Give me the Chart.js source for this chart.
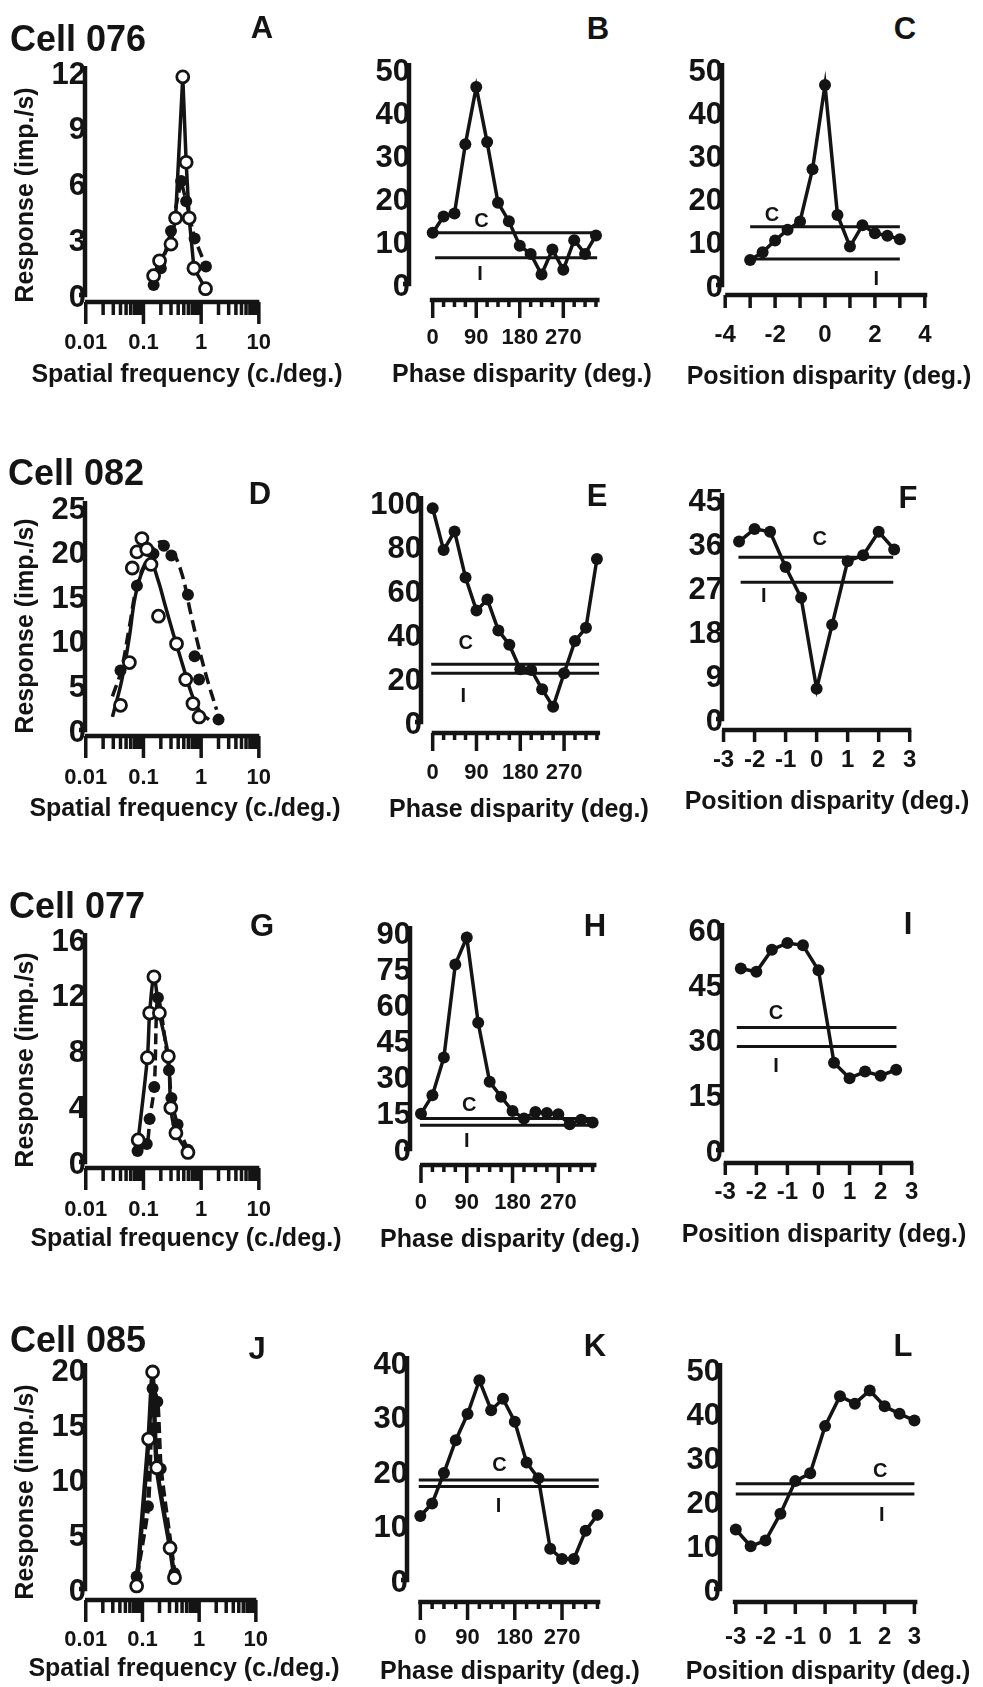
<!DOCTYPE html>
<html>
<head>
<meta charset="utf-8">
<script src="https://cdn.jsdelivr.net/npm/chart.js@4.4.1/dist/chart.umd.min.js"></script>
<style>
  body { margin: 0; background: #fff; width: 983px; height: 1687px; position: relative; overflow: hidden;
         font-family: "Liberation Sans", Arial, Helvetica, sans-serif; font-weight: bold; color: #141414; }
  canvas { position: absolute; }
  .txt { position: absolute; white-space: nowrap; line-height: 1; z-index: 2; }
</style>
</head>
<body>
<script>
// ---- shared x values and tick labels ----
const phaseDeg = [0, 22.5, 45, 67.5, 90, 112.5, 135, 157.5, 180, 202.5, 225, 247.5, 270, 292.5, 315, 337.5];
const pos13 = [-3, -2.5, -2, -1.5, -1, -0.5, 0, 0.5, 1, 1.5, 2, 2.5, 3];
const pos11 = [-2.5, -2, -1.5, -1, -0.5, 0, 0.5, 1, 1.5, 2, 2.5];

const logTicks = [0.01, 0.1, 1, 10];
const logMinor = [0.02, 0.03, 0.04, 0.05, 0.06, 0.07, 0.08, 0.09, 0.2, 0.3, 0.4, 0.5, 0.6, 0.7, 0.8, 0.9, 2, 3, 4, 5, 6, 7, 8, 9];
const phaseTicks = [0, 90, 180, 270];
const phaseMinor = [22.5, 45, 67.5, 112.5, 135, 157.5, 202.5, 225, 247.5, 292.5, 315, 337.5];
const posTicksWide = [-4, -3, -2, -1, 0, 1, 2, 3, 4];
const posLabelsWide = [-4, -2, 0, 2, 4];
const posTicks = [-3, -2, -1, 0, 1, 2, 3];

const yTicksA = [0, 3, 6, 9, 12];
const yTicksB = [0, 10, 20, 30, 40, 50];
const yTicksC = [0, 10, 20, 30, 40, 50];
const yTicksD = [0, 5, 10, 15, 20, 25];
const yTicksE = [0, 20, 40, 60, 80, 100];
const yTicksF = [0, 9, 18, 27, 36, 45];
const yTicksG = [0, 4, 8, 12, 16];
const yTicksH = [0, 15, 30, 45, 60, 75, 90];
const yTicksI = [0, 15, 30, 45, 60];
const yTicksJ = [0, 5, 10, 15, 20];
const yTicksK = [0, 10, 20, 30, 40];
const yTicksL = [0, 10, 20, 30, 40, 50];

// ---- Cell 076 ----
const sfOpenX_A = [0.15, 0.19, 0.30, 0.36, 0.48, 0.55, 0.62, 0.75, 1.19];
const sfOpenY_A = [1.2, 2.0, 2.9, 4.3, 11.9, 7.3, 4.3, 1.6, 0.5];
const sfFillX_A = [0.15, 0.20, 0.30, 0.45, 0.55, 0.77, 1.21];
const sfFillY_A = [0.7, 1.6, 3.6, 6.3, 5.2, 3.2, 1.7];
const phaseY_B = [12.6, 16.4, 17.1, 33.2, 46.5, 33.7, 19.6, 15.3, 9.6, 7.7, 2.9, 8.7, 4.0, 10.9, 7.7, 12.0];
const levelsB = [12.6, 6.8]; // C, I
const posY_C = [6.5, 8.3, 11.0, 13.5, 15.4, 27.5, 47.0, 16.9, 9.6, 14.5, 12.7, 12.1, 11.3];
const levelsC = [14.2, 6.7];

// ---- Cell 082 ----
const sfOpenX_D = [0.040, 0.057, 0.064, 0.077, 0.094, 0.114, 0.135, 0.182, 0.374, 0.54, 0.72, 0.92];
const sfOpenY_D = [3.1, 7.9, 18.5, 20.3, 21.8, 20.6, 18.9, 13.1, 10.0, 6.0, 3.3, 1.8];
const sfFillX_D = [0.040, 0.077, 0.149, 0.226, 0.305, 0.59, 0.77, 0.92, 2.0];
const sfFillY_D = [7.0, 16.5, 20.1, 21.0, 19.9, 15.5, 8.6, 6.0, 1.5];
const fitOpenX_D = [0.029, 0.042, 0.057, 0.072, 0.098, 0.132, 0.178, 0.24, 0.34, 0.49, 0.71, 1.0, 1.37];
const fitOpenY_D = [1.8, 5.9, 10.8, 15.3, 18.3, 19.2, 17.2, 14.2, 10.8, 7.4, 4.1, 2.2, 1.5];
const fitFillX_D = [0.029, 0.041, 0.057, 0.077, 0.115, 0.19, 0.305, 0.46, 0.66, 0.90, 1.29, 1.85];
const fitFillY_D = [4.1, 7.0, 11.9, 16.5, 19.4, 21.4, 20.5, 17.9, 13.4, 9.7, 5.9, 2.6];
const phaseY_E = [98.5, 79.5, 88.0, 67.0, 52.0, 57.0, 43.0, 36.5, 25.3, 25.0, 16.2, 8.3, 23.5, 38.2, 44.2, 75.5];
const levelsE = [27.6, 23.5];
const posY_F = [36.9, 39.5, 38.9, 31.7, 25.4, 6.8, 19.9, 32.9, 34.1, 38.9, 35.3];
const levelsF = [33.7, 28.6];

// ---- Cell 077 ----
const sfOpenX_G = [0.081, 0.117, 0.128, 0.152, 0.189, 0.27, 0.298, 0.365, 0.59];
const sfOpenY_G = [1.8, 7.7, 10.9, 13.5, 10.9, 7.8, 4.1, 2.3, 0.9];
const sfFillX_G = [0.079, 0.114, 0.128, 0.154, 0.178, 0.277, 0.305, 0.39, 0.59];
const sfFillY_G = [1.0, 1.5, 3.3, 5.6, 12.0, 6.8, 4.8, 2.9, 1.1];
const phaseY_H = [15.9, 23.5, 39.2, 77.8, 89.0, 53.6, 29.1, 22.9, 17.0, 13.9, 16.6, 16.2, 15.7, 11.5, 13.4, 12.2];
const levelsH = [13.9, 11.1];
const posY_I = [50.1, 49.2, 55.2, 57.0, 56.4, 49.6, 24.5, 20.3, 22.1, 21.0, 22.6];
const levelsI = [34.1, 28.9];

// ---- Cell 085 ----
const sfOpenX_J = [0.079, 0.128, 0.151, 0.179, 0.307, 0.367];
const sfOpenY_J = [0.55, 13.9, 20.0, 11.3, 4.0, 1.3];
const sfFillX_J = [0.079, 0.125, 0.151, 0.183, 0.21, 0.367];
const sfFillY_J = [1.4, 7.8, 18.5, 17.3, 11.2, 1.7];
const phaseY_K = [12.3, 14.6, 20.2, 26.2, 31.0, 37.2, 31.7, 33.8, 29.6, 22.1, 19.2, 6.3, 4.4, 4.4, 9.6, 12.5];
const levelsK = [18.9, 17.7];
const posY_L = [14.2, 10.4, 11.7, 17.8, 25.2, 27.0, 37.7, 44.5, 42.8, 45.8, 42.2, 40.5, 39.0];
const levelsL = [24.6, 22.3];

const INK = '#141414';
const FONT = '"Liberation Sans", Arial, Helvetica, sans-serif';

function pts(xs, ys) {
    return xs.map((x, i) => ({ x: x, y: ys[i] }));
}

// open circles / filled dots, optionally joined
function openSeries(xs, ys, line, width) {
    return {
        data: pts(xs, ys), showLine: !!line, borderColor: INK, borderWidth: width || 3.5,
        pointRadius: 6, pointBackgroundColor: '#fff', pointBorderColor: INK, pointBorderWidth: 2.8,
        clip: false, order: 1
    };
}
function filledSeries(xs, ys, line, width) {
    return {
        data: pts(xs, ys), showLine: !!line, borderColor: INK, borderWidth: width || 3.5,
        borderDash: line === 'dash' ? [11, 5] : [],
        pointRadius: 6, pointBackgroundColor: INK, pointBorderWidth: 0,
        clip: false, order: 2
    };
}
function fitCurve(xs, ys, dashed) {
    return {
        data: pts(xs, ys), showLine: true, borderColor: INK, borderWidth: 3.5, tension: 0.4,
        borderDash: dashed ? [12, 6] : [], pointRadius: 0, clip: false, order: 3
    };
}
function refLine(level, span) {
    return {
        data: [{ x: span[0], y: level }, { x: span[1], y: level }], showLine: true,
        borderColor: INK, borderWidth: 3, pointRadius: 0, clip: false, order: 5
    };
}
function disparitySets(xs, ys, levels, cSpan, iSpan) {
    return [filledSeries(xs, ys, 'solid'), refLine(levels[0], cSpan), refLine(levels[1], iSpan)];
}

// axis settings per column
const sfAxis = { kind: 'sf', xMin: 0.0097, xMax: 10.3, xLabels: logTicks, major: logTicks, minor: logMinor,
                 majorLen: 22, minorLen: 13, axisFrom: 0.0097, axisTo: 10.2, xFont: 22 };
const phaseAxis = { kind: 'phase', xMax: 350, xLabels: phaseTicks, major: phaseTicks, minor: phaseMinor,
                    majorLen: 18, minorLen: 7, axisTo: 345, xFont: 22 };
const posAxis = { kind: 'pos', xMax: 3.3, xLabels: posTicks, major: posTicks, minor: [],
                  majorLen: 12, minorLen: 0, axisFrom: -3.05, axisTo: 3.05, xFont: 24 };

const panels = [
    { ...sfAxis, id: 'A', l: 85, r: 277, t: 75, b: 298, axisY: 302, labelY: 343, yTicks: yTicksA,
      datasets: [openSeries(sfOpenX_A, sfOpenY_A, 'solid'), filledSeries(sfFillX_A, sfFillY_A, 'dash')] },
    { ...phaseAxis, id: 'B', l: 409, r: 602, t: 72, b: 287, axisY: 300, labelY: 338, xMin: -49, axisFrom: -6,
      yTicks: yTicksB, datasets: disparitySets(phaseDeg, phaseY_B, levelsB, [-5, 340], [5, 340]),
      cAt: [101, 15.3], iAt: [98, 2.9] },
    { kind: 'pos', id: 'C', l: 722, r: 939, t: 72, b: 288, axisY: 295, labelY: 335, xMin: -4.128, xMax: 4.3,
      xLabels: posLabelsWide, major: posTicksWide, minor: [], majorLen: 13, minorLen: 0,
      axisFrom: -4, axisTo: 4.1, xFont: 24, yTicks: yTicksC,
      datasets: disparitySets(pos13, posY_C, levelsC, [-3, 3], [-2.8, 3]), cAt: [-2.13, 16.7], iAt: [2.06, 1.9] },

    { ...sfAxis, id: 'D', l: 85, r: 277, t: 510, b: 733, axisY: 736, labelY: 778, yTicks: yTicksD,
      datasets: [openSeries(sfOpenX_D, sfOpenY_D, false), filledSeries(sfFillX_D, sfFillY_D, false),
                 fitCurve(fitOpenX_D, fitOpenY_D, false), fitCurve(fitFillX_D, fitFillY_D, true)] },
    { ...phaseAxis, id: 'E', l: 421, r: 603, t: 505, b: 725, axisY: 733, labelY: 773, xMin: -24, axisFrom: -2, axisTo: 344,
      yTicks: yTicksE, datasets: disparitySets(phaseDeg, phaseY_E, levelsE, [-3, 342], [-3, 342]),
      cAt: [68, 37.1], iAt: [62.7, 12.9] },
    { ...posAxis, id: 'F', l: 722, r: 919, t: 502, b: 722, axisY: 730, labelY: 760, xMin: -3.05,
      yTicks: yTicksF, datasets: disparitySets(pos11, posY_F, levelsF, [-2.52, 2.47], [-2.45, 2.47]),
      cAt: [0.1, 37.3], iAt: [-1.7, 25.6] },

    { ...sfAxis, id: 'G', l: 85, r: 277, t: 942, b: 1165, axisY: 1168, labelY: 1210, yTicks: yTicksG,
      datasets: [Object.assign(openSeries(sfOpenX_G, sfOpenY_G, 'solid'), { tension: 0.3 }),
                 Object.assign(filledSeries(sfFillX_G, sfFillY_G, 'dash'), { tension: 0.3 })] },
    { ...phaseAxis, id: 'H', l: 410, r: 599, t: 935, b: 1152, axisY: 1165, labelY: 1203, xMin: -21.6, axisFrom: -2,
      yTicks: yTicksH, datasets: disparitySets(phaseDeg, phaseY_H, levelsH, [-2, 340], [-2, 340]),
      cAt: [94.7, 19.4], iAt: [90, 4.2] },
    { ...posAxis, id: 'I', l: 722, r: 921, t: 932, b: 1153, axisY: 1163, labelY: 1192, xMin: -3.106,
      yTicks: yTicksI, datasets: disparitySets(pos11, posY_I, levelsI, [-2.63, 2.51], [-2.63, 2.51]),
      cAt: [-1.37, 37.9], iAt: [-1.37, 23.5] },

    { ...sfAxis, id: 'J', l: 85, r: 277, t: 1372, b: 1592, axisY: 1600, labelY: 1640, yTicks: yTicksJ,
      datasets: [Object.assign(openSeries(sfOpenX_J, sfOpenY_J, 'solid', 4.5), { tension: 0.2 }),
                 Object.assign(filledSeries(sfFillX_J, sfFillY_J, 'dash', 4.5), { tension: 0.2 })] },
    { ...phaseAxis, id: 'K', l: 407, r: 604, t: 1365, b: 1583, axisY: 1602, labelY: 1638, xMin: -25.4, axisFrom: -4, axisTo: 343,
      yTicks: yTicksK, datasets: disparitySets(phaseDeg, phaseY_K, levelsK, [-3, 340], [-3, 340]),
      cAt: [151, 21.6], iAt: [149, 14.1] },
    { ...posAxis, id: 'L', l: 720, r: 927, t: 1372, b: 1592, axisY: 1602, labelY: 1637, xMin: -3.53, xMax: 3.35,
      axisFrom: -3.1, axisTo: 3.1, yTicks: yTicksL,
      datasets: disparitySets(pos13, posY_L, levelsL, [-3, 3], [-3, 3]),
      cAt: [1.85, 27.3], iAt: [1.9, 17.4] }
];

// Prism-style axes: y line with a foot, detached x line with major/minor ticks, C / I tags
function axisPlugin(p) {
    return {
        id: 'prismAxes',
        beforeDatasetsDraw(chart) {
            const ctx = chart.ctx, a = chart.chartArea, xs = chart.scales.x, ys = chart.scales.y;
            ctx.save();
            ctx.strokeStyle = INK;
            ctx.lineWidth = 4.5;
            const y0 = ys.getPixelForValue(0) - 3;
            ctx.beginPath();
            ctx.moveTo(a.left - 6, y0);
            ctx.lineTo(a.left, y0);
            ctx.lineTo(a.left, a.top - 9);
            ctx.stroke();

            const ay = a.bottom + (p.axisY - p.b);
            ctx.beginPath();
            ctx.moveTo(xs.getPixelForValue(p.axisFrom), ay);
            ctx.lineTo(xs.getPixelForValue(p.axisTo), ay);
            ctx.stroke();

            ctx.lineWidth = 3.5;
            ctx.beginPath();
            p.major.forEach(v => {
                const px = xs.getPixelForValue(v);
                ctx.moveTo(px, ay);
                ctx.lineTo(px, ay + p.majorLen);
            });
            p.minor.forEach(v => {
                const px = xs.getPixelForValue(v);
                ctx.moveTo(px, ay);
                ctx.lineTo(px, ay + p.minorLen);
            });
            ctx.stroke();
            ctx.restore();
        },
        afterDatasetsDraw(chart) {
            if (!p.cAt) return;
            const ctx = chart.ctx, xs = chart.scales.x, ys = chart.scales.y;
            ctx.save();
            ctx.fillStyle = INK;
            ctx.font = 'bold 20px ' + FONT;
            ctx.textAlign = 'center';
            ctx.textBaseline = 'middle';
            ctx.fillText('C', xs.getPixelForValue(p.cAt[0]), ys.getPixelForValue(p.cAt[1]));
            ctx.fillText('I', xs.getPixelForValue(p.iAt[0]), ys.getPixelForValue(p.iAt[1]));
            ctx.restore();
        }
    };
}

function makePanel(p) {
    const yW = 60, padTop = 22, padRight = 26, xH = 80;
    const w = p.r - p.l + yW + padRight;
    const h = p.b - p.t + padTop + xH;
    const cv = document.createElement('canvas');
    cv.width = w;
    cv.height = h;
    cv.style.left = (p.l - yW) + 'px';
    cv.style.top = (p.t - padTop) + 'px';
    cv.style.width = w + 'px';
    cv.style.height = h + 'px';
    document.body.appendChild(cv);

    return new Chart(cv, {
        type: 'scatter',
        data: { datasets: p.datasets },
        options: {
            responsive: false,
            animation: false,
            devicePixelRatio: 1,
            events: [],
            layout: { padding: { top: padTop, right: padRight, left: 0, bottom: 0 } },
            plugins: { legend: { display: false }, tooltip: { enabled: false } },
            scales: {
                x: {
                    type: p.kind === 'sf' ? 'logarithmic' : 'linear',
                    min: p.xMin, max: p.xMax, bounds: 'data',
                    border: { display: false },
                    grid: { display: false, drawTicks: false },
                    afterBuildTicks: s => { s.ticks = p.xLabels.map(v => ({ value: v })); },
                    afterFit: s => { s.height = xH; },
                    ticks: {
                        autoSkip: false, maxRotation: 0, minRotation: 0, color: INK,
                        padding: p.labelY - p.b - p.xFont * 0.6,
                        font: { family: FONT, size: p.xFont, weight: 'bold' },
                        callback: v => String(v)
                    }
                },
                y: {
                    min: 0, max: p.yTicks[p.yTicks.length - 1], bounds: 'data',
                    border: { display: false },
                    grid: { display: false, drawTicks: false },
                    afterBuildTicks: s => { s.ticks = p.yTicks.map(v => ({ value: v })); },
                    afterFit: s => { s.width = yW; },
                    ticks: {
                        autoSkip: false, padding: -1, color: INK,
                        font: { family: FONT, size: 31, weight: 'bold' },
                        callback: v => String(v)
                    }
                }
            }
        },
        plugins: [axisPlugin(p)]
    });
}

panels.forEach(makePanel);

// ---- text: cell names, panel letters, axis titles ----
function addText(text, cx, cy, size, mode) {
    const d = document.createElement('div');
    d.className = 'txt';
    d.textContent = text;
    d.style.left = cx + 'px';
    d.style.top = cy + 'px';
    d.style.fontSize = size + 'px';
    if (mode === 'left') d.style.transform = 'translate(0, -50%)';
    else if (mode === 'rot') d.style.transform = 'translate(-50%, -50%) rotate(-90deg)';
    else d.style.transform = 'translate(-50%, -50%)';
    document.body.appendChild(d);
}

[['Cell 076', 10, 39], ['Cell 082', 8, 473], ['Cell 077', 9, 906], ['Cell 085', 10, 1340]]
    .forEach(c => addText(c[0], c[1], c[2], 36, 'left'));

[['A', 262, 27], ['B', 598, 28], ['C', 905, 28], ['D', 260, 493], ['E', 597, 495], ['F', 908, 497],
 ['G', 262, 925], ['H', 595, 925], ['I', 908, 923], ['J', 257, 1348], ['K', 595, 1345], ['L', 903, 1345]]
    .forEach(c => addText(c[0], c[1], c[2], 31));

[195, 626, 1060, 1492].forEach(cy => addText('Response (imp./s)', 24, cy, 25, 'rot'));

[['Spatial frequency (c./deg.)', 187, 373], ['Phase disparity (deg.)', 522, 373], ['Position disparity (deg.)', 829, 375],
 ['Spatial frequency (c./deg.)', 185, 807], ['Phase disparity (deg.)', 519, 808], ['Position disparity (deg.)', 827, 800],
 ['Spatial frequency (c./deg.)', 186, 1237], ['Phase disparity (deg.)', 510, 1238], ['Position disparity (deg.)', 824, 1233],
 ['Spatial frequency (c./deg.)', 184, 1667], ['Phase disparity (deg.)', 510, 1670], ['Position disparity (deg.)', 828, 1670]]
    .forEach(c => addText(c[0], c[1], c[2], 25));
</script>
</body>
</html>
